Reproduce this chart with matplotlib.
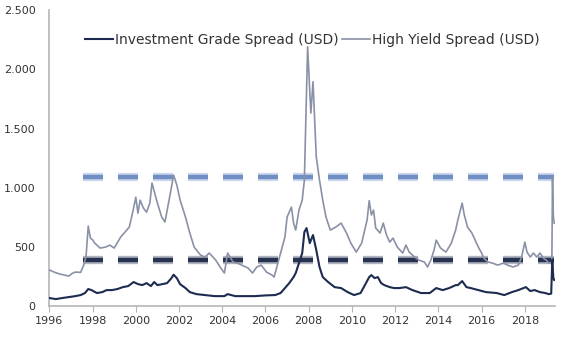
import matplotlib
matplotlib.use("Agg")
import matplotlib.pyplot as plt
from matplotlib.ticker import FuncFormatter

# ------ spread data (bp), fractional years ------

hy_years = [1996.0, 1996.25, 1996.5, 1996.75, 1996.9, 1997.05, 1997.2, 1997.45, 1997.6, 1997.7,
            1997.8, 1997.9, 1998.0, 1998.1, 1998.35, 1998.6, 1998.8, 1999.0, 1999.3, 1999.5,
            1999.7, 1999.9, 2000.0, 2000.1, 2000.2, 2000.35, 2000.5, 2000.65, 2000.75, 2000.9,
            2001.0, 2001.2, 2001.35, 2001.6, 2001.75, 2001.9, 2002.05, 2002.3, 2002.5, 2002.7,
            2003.0, 2003.2, 2003.4, 2003.7, 2003.9, 2004.1, 2004.25, 2004.5, 2004.7, 2004.9,
            2005.2, 2005.4, 2005.6, 2005.8, 2006.05, 2006.3, 2006.4, 2006.55, 2006.7, 2006.9,
            2007.0, 2007.2, 2007.3, 2007.4, 2007.55, 2007.7, 2007.8, 2007.95, 2008.1, 2008.2,
            2008.25, 2008.35, 2008.5, 2008.65, 2008.8, 2009.0, 2009.25, 2009.5, 2009.75, 2009.95,
            2010.2, 2010.45, 2010.7, 2010.8, 2010.9, 2011.0, 2011.1, 2011.3, 2011.45, 2011.6,
            2011.75, 2011.9, 2012.1, 2012.35, 2012.5, 2012.65, 2012.9, 2013.1, 2013.35, 2013.5,
            2013.65, 2013.8, 2013.9, 2014.1, 2014.35, 2014.6, 2014.8, 2014.9, 2015.05, 2015.1,
            2015.2, 2015.35, 2015.55, 2015.7, 2015.85, 2016.0, 2016.1, 2016.3, 2016.5, 2016.75,
            2017.0, 2017.2, 2017.45, 2017.7, 2017.85, 2018.0, 2018.1, 2018.25, 2018.4, 2018.55,
            2018.7, 2018.85, 2019.0, 2019.1, 2019.25, 2019.28, 2019.32, 2019.36]
hy_spread = [305, 285, 270, 260, 253, 275, 287, 285, 350, 420,
             676, 574, 560, 532, 490, 498, 515, 490, 583, 625,
             667, 828, 920, 785, 895, 828, 794, 870, 1039, 937,
             870, 752, 710, 954, 1106, 1022, 895, 752, 617, 498,
             430, 414, 448, 388, 330, 279, 448, 372, 363, 346,
             321, 279, 330, 346, 287, 262, 245, 346, 448, 583,
             752, 836, 701, 642, 811, 895, 1064, 2190, 1630, 1895,
             1680, 1260, 1064, 895, 752, 642, 667, 701, 617, 532,
             456, 532, 726, 890, 769, 811, 659, 617, 701, 600,
             540, 574, 498, 448, 515, 456, 414, 388, 372, 330,
             388, 473, 557, 490, 456, 532, 642, 726, 836, 870,
             769, 667, 617, 557, 498, 448, 405, 372, 363, 346,
             363, 346, 330, 346, 414, 540, 456, 414, 448, 414,
             448, 405, 388, 363, 370, 1090, 752, 700]

ig_years = [1996.0, 1996.3, 1996.6, 1996.9, 1997.2, 1997.45, 1997.65, 1997.8, 1997.95, 1998.2,
            1998.45, 1998.65, 1998.9, 1999.15, 1999.4, 1999.65, 1999.9, 2000.1, 2000.3, 2000.5,
            2000.7, 2000.85, 2001.0, 2001.25, 2001.45, 2001.65, 2001.75, 2001.9, 2002.05, 2002.3,
            2002.5, 2002.8, 2003.2, 2003.65, 2004.1, 2004.25, 2004.6, 2005.05, 2005.5, 2006.0,
            2006.45, 2006.7, 2006.9, 2007.1, 2007.3, 2007.4, 2007.55, 2007.7, 2007.8, 2007.9,
            2008.05, 2008.2, 2008.35, 2008.5, 2008.65, 2008.9, 2009.2, 2009.5, 2009.8, 2010.1,
            2010.4, 2010.65, 2010.8, 2010.9, 2011.05, 2011.2, 2011.35, 2011.5, 2011.75, 2011.95,
            2012.2, 2012.5, 2012.8, 2013.2, 2013.6, 2013.9, 2014.2, 2014.5, 2014.8, 2014.9,
            2015.1, 2015.3, 2015.5, 2015.85, 2016.2, 2016.7, 2017.05, 2017.4, 2017.7, 2018.05,
            2018.25, 2018.45, 2018.7, 2018.95, 2019.1, 2019.22, 2019.27, 2019.32, 2019.36]
ig_spread = [68, 59, 68, 76, 84, 93, 110, 144, 135, 110,
             118, 135, 135, 144, 160, 169, 203, 186, 177, 194,
             169, 203, 177, 186, 194, 236, 265, 236, 185, 152,
             118, 101, 93, 84, 84, 101, 84, 84, 84, 90,
             93, 110, 152, 194, 245, 279, 363, 448, 625, 659,
             532, 600, 473, 330, 245, 203, 160, 152, 118, 93,
             110, 194, 245, 262, 236, 245, 194, 177, 160, 152,
             152, 160, 135, 110, 110, 152, 135, 152, 177, 177,
             211, 160, 152, 135, 118, 110, 93, 118, 135, 160,
             127, 135, 118, 110, 101, 105, 390, 236, 220]

# reference levels drawn as dashed lines
level_years = [1997.55, 2019.36]
ig_level = 390
hy_level = 1090

year_ticks = list(range(1996, 2019, 2))
spread_ticks = [0, 500, 1000, 1500, 2000, 2500]

navy = "#1c2b4f"
grey = "#8a91a6"
blue = "#6f8fc4"

plt.rcParams['font.family'] = ['DejaVu Sans']
plt.rcParams['lines.scale_dashes'] = False

fig = plt.figure(figsize=(5.67, 3.49), dpi=100)
ax = fig.add_axes([0.087, 0.123, 0.892, 0.848])

dash = (14.4, 10.8)
# soft halo under each dashed level, then the solid core
ax.plot(level_years, [hy_level] * 2, color="#aabddf", lw=6.0, alpha=0.6,
        dashes=dash, dash_capstyle="butt", zorder=2)
ax.plot(level_years, [hy_level] * 2, color=blue, lw=3.2,
        dashes=dash, dash_capstyle="butt", zorder=2)
ax.plot(level_years, [ig_level] * 2, color="#7c8499", lw=6.0, alpha=0.6,
        dashes=dash, dash_capstyle="butt", zorder=2)
ax.plot(level_years, [ig_level] * 2, color="#26324f", lw=3.2,
        dashes=dash, dash_capstyle="butt", zorder=2)

ax.plot(ig_years, ig_spread, color=navy, lw=1.5, label="Investment Grade Spread (USD)", zorder=4)
ax.plot(hy_years, hy_spread, color=grey, lw=1.2, label="High Yield Spread (USD)", zorder=3)

ax.set_xlim(1996, 2019.4)
ax.set_ylim(0, 2500)
ax.set_xticks(year_ticks)
ax.set_yticks(spread_ticks)
ax.yaxis.set_major_formatter(FuncFormatter(lambda v, p: f"{int(v):,}".replace(",", ".")))

for side in ["top", "right"]:
    ax.spines[side].set_visible(False)
for side in ["left", "bottom"]:
    ax.spines[side].set_color("#b5b5b5")
    ax.spines[side].set_linewidth(1.2)
ax.tick_params(axis="x", length=4, color="#b5b5b5", labelsize=8, labelcolor="#333333", pad=3)
ax.tick_params(axis="y", length=0, labelsize=8, labelcolor="#333333", pad=10)

ax.legend(loc="upper center", bbox_to_anchor=(0.52, 0.965), ncol=2, frameon=False,
          fontsize=10, handlelength=2.0, handletextpad=0.1, columnspacing=0.3,
          labelcolor="#333333")

plt.savefig("out.png", dpi=100)
